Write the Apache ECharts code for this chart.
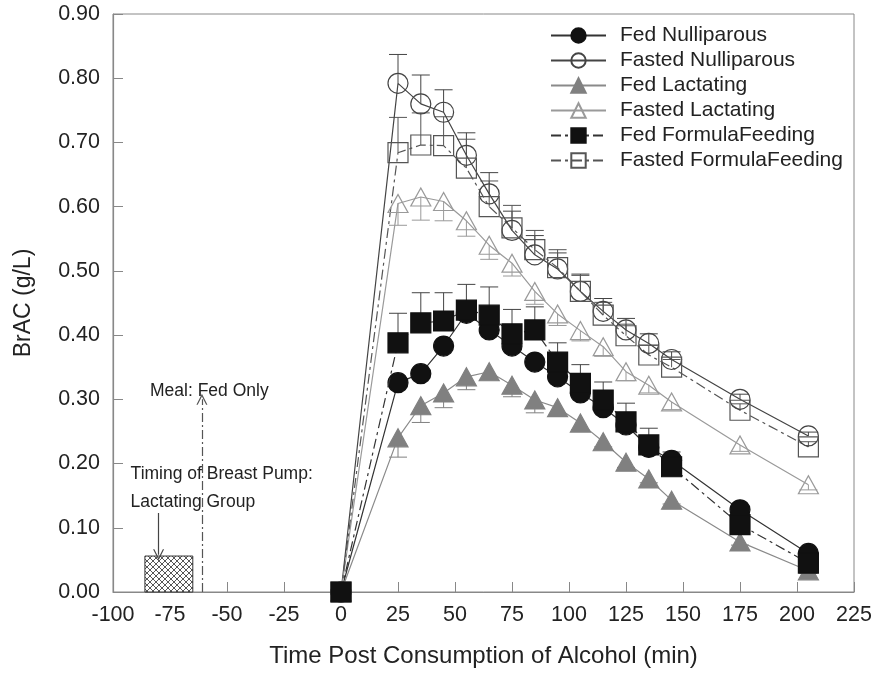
<!DOCTYPE html>
<html><head><meta charset="utf-8">
<script src="https://cdn.jsdelivr.net/npm/echarts@6/dist/echarts.min.js"></script>
<style>html,body{margin:0;padding:0;background:#fff}#c{width:875px;height:674px}</style>
</head><body><div id="c"></div>
<script>
// ---- data ----
const times = [0, 25, 35, 45, 55, 65, 75, 85, 95, 105, 115, 125, 135, 145, 175, 205];
const fedNulliparous      = [0, 0.326, 0.340, 0.383, 0.434, 0.408, 0.383, 0.358, 0.335, 0.310, 0.287, 0.260, 0.225, 0.205, 0.128, 0.060];
const fastedNulliparous   = [0, 0.792, 0.760, 0.747, 0.680, 0.620, 0.563, 0.525, 0.503, 0.468, 0.437, 0.408, 0.387, 0.362, 0.300, 0.243];
const fedLactating        = [0, 0.240, 0.290, 0.310, 0.335, 0.343, 0.322, 0.299, 0.287, 0.263, 0.234, 0.202, 0.176, 0.143, 0.078, 0.033];
const fastedLactating     = [0, 0.605, 0.615, 0.608, 0.578, 0.540, 0.512, 0.468, 0.433, 0.407, 0.382, 0.343, 0.322, 0.296, 0.229, 0.167];
const fedFormula          = [0, 0.388, 0.419, 0.422, 0.439, 0.431, 0.402, 0.408, 0.358, 0.325, 0.299, 0.265, 0.229, 0.195, 0.105, 0.045];
const fastedFormula       = [0, 0.684, 0.696, 0.695, 0.660, 0.600, 0.567, 0.533, 0.505, 0.468, 0.431, 0.399, 0.369, 0.350, 0.283, 0.226];
// error bar half-widths (SEM), direction: +1 up, -1 down
const fedNulliparousErr    = [0, 0, 0, 0, 0, 0, 0, 0, 0, 0, 0, 0, 0, 0, 0, 0];
const fastedNulliparousErr = [0, 0.045, 0.045, 0.035, 0.035, 0.033, 0.030, 0.030, 0.025, 0.027, 0.020, 0.018, 0.015, 0.012, 0.008, 0.006];
const fedLactatingErr      = [0, 0.030, 0.026, 0.023, 0.020, 0.012, 0.018, 0.020, 0.012, 0.010, 0.008, 0.008, 0.006, 0.006, 0.005, 0.004];
const fastedLactatingErr   = [0, 0.034, 0.036, 0.030, 0.024, 0.022, 0.020, 0.020, 0.018, 0.016, 0.015, 0.014, 0.012, 0.012, 0.010, 0.008];
const fedFormulaErr        = [0, 0.046, 0.047, 0.044, 0.040, 0.044, 0.038, 0.036, 0.030, 0.029, 0.028, 0.029, 0.026, 0.023, 0.010, 0.008];
const fastedFormulaErr     = [0, 0.055, 0.050, 0.045, 0.045, 0.040, 0.035, 0.030, 0.028, 0.025, 0.020, 0.018, 0.015, 0.012, 0.010, 0.008];
const seriesNames = ['Fed Nulliparous', 'Fasted Nulliparous', 'Fed Lactating', 'Fasted Lactating', 'Fed FormulaFeeding', 'Fasted FormulaFeeding'];
const xTicks = { min: -100, max: 225, step: 25 };
const yTicks = { min: 0, max: 0.9, step: 0.1 };
// annotations (data coordinates)
const pumpStart = -86, pumpEnd = -65, pumpTop = 0.056;
const mealTime = -61, mealArrowTop = 0.30;
const pumpArrowX = -80, pumpArrowFrom = 0.123, pumpArrowTo = 0.058;
const annotTexts = [
  { text: 'Meal: Fed Only', x: -84, y: 0.313 },
  { text: 'Timing of Breast Pump:', x: -92.5, y: 0.184 },
  { text: 'Lactating Group', x: -92.5, y: 0.140 }
];

// ---- styles ----
const FONT = 'Liberation Sans, Arial, sans-serif';
const styles = [
  { symbol: 'circle', size: 20, fill: '#111', border: '#111', line: '#333', type: 'solid', dir: 1, z: 3 },
  { symbol: 'circle', size: 20, fill: 'rgba(255,255,255,0)', border: '#444', line: '#444', type: 'solid', dir: 1, z: 3 },
  { symbol: 'triangle', size: [20, 18], fill: '#808080', border: '#808080', line: '#8a8a8a', type: 'solid', dir: -1, z: 3 },
  { symbol: 'triangle', size: [20, 18], fill: 'rgba(255,255,255,0)', border: '#9a9a9a', line: '#9a9a9a', type: 'solid', dir: -1, z: 3 },
  { symbol: 'rect', size: 20, fill: '#111', border: '#111', line: '#333', type: [10, 4, 3, 4], dir: 1, z: 4 },
  { symbol: 'rect', size: 20, fill: 'rgba(255,255,255,0)', border: '#555', line: '#555', type: [10, 4, 3, 4], dir: 1, z: 3 }
];
const values = [fedNulliparous, fastedNulliparous, fedLactating, fastedLactating, fedFormula, fastedFormula];
const errs = [fedNulliparousErr, fastedNulliparousErr, fedLactatingErr, fastedLactatingErr, fedFormulaErr, fastedFormulaErr];

// crosshatch pattern
const pc = document.createElement('canvas');
pc.width = 6; pc.height = 6;
const g = pc.getContext('2d');
g.fillStyle = '#fff'; g.fillRect(0, 0, 6, 6);
g.strokeStyle = '#444'; g.lineWidth = 0.9;
g.beginPath(); g.moveTo(0, 0); g.lineTo(6, 6); g.moveTo(6, 0); g.lineTo(0, 6); g.stroke();

const chevron = 'path://M0,12 L6,0 L12,12 L10.6,12 L6,2.8 L1.4,12 Z';

const series = [];
// error bars
values.forEach((vals, i) => {
  const st = styles[i];
  const data = [];
  times.forEach((t, k) => { if (errs[i][k] > 0) data.push([t, vals[k], vals[k] + st.dir * errs[i][k]]); });
  series.push({
    type: 'custom', name: seriesNames[i] + ' err', z: 1, silent: true,
    data: data,
    renderItem: function (params, api) {
      const p0 = api.coord([api.value(0), api.value(1)]);
      const p1 = api.coord([api.value(0), api.value(2)]);
      const hw = 9;
      const style = { stroke: st.border === '#111' ? '#444' : st.border, lineWidth: 1, fill: null };
      return { type: 'group', children: [
        { type: 'line', shape: { x1: p0[0], y1: p0[1], x2: p1[0], y2: p1[1] }, style: style },
        { type: 'line', shape: { x1: p1[0] - hw, y1: p1[1], x2: p1[0] + hw, y2: p1[1] }, style: style }
      ]};
    }
  });
});
// lines with markers
values.forEach((vals, i) => {
  const st = styles[i];
  series.push({
    type: 'line', name: seriesNames[i], z: st.z,
    data: times.map((t, k) => [t, vals[k]]),
    symbol: st.symbol, symbolSize: st.size, showAllSymbol: true,
    lineStyle: { color: st.line, width: 1.2, type: st.type },
    itemStyle: { color: st.fill, borderColor: st.border, borderWidth: 1.2 },
    emphasis: { disabled: true }, animation: false
  });
});
// annotations
series.push({
  type: 'scatter', name: 'annotations', data: [], z: 2, silent: true,
  markArea: {
    silent: true,
    itemStyle: { color: { image: pc, repeat: 'repeat' }, borderColor: '#333', borderWidth: 1 },
    data: [[{ xAxis: pumpStart, yAxis: 0 }, { xAxis: pumpEnd, yAxis: pumpTop }]]
  },
  markLine: {
    silent: true, animation: false,
    label: { show: false },
    data: [
      [{ coord: [mealTime, 0], symbol: 'none', lineStyle: { color: '#555', width: 1.2, type: [9, 3, 2, 3] } },
       { coord: [mealTime, mealArrowTop], symbol: chevron, symbolSize: [11, 11] }],
      [{ coord: [pumpArrowX, pumpArrowFrom], symbol: 'none', lineStyle: { color: '#444', width: 1.2, type: 'solid' } },
       { coord: [pumpArrowX, pumpArrowTo], symbol: chevron, symbolSize: [11, 11] }]
    ]
  },
  markPoint: {
    silent: true, symbol: 'rect', symbolSize: 1,
    itemStyle: { color: 'rgba(0,0,0,0)' },
    label: { show: true, position: 'right', distance: 0, formatter: p => p.name,
             fontSize: 17.5, color: '#222', fontFamily: FONT },
    data: annotTexts.map(a => ({ name: a.text, coord: [a.x, a.y] }))
  }
});

const chart = echarts.init(document.getElementById('c'), null, { renderer: 'canvas' });
chart.setOption({
  backgroundColor: '#fff',
  animation: false,
  grid: { left: 113, right: 21, top: 14, bottom: 82, show: true, borderColor: '#888', borderWidth: 1 },
  legend: {
    data: seriesNames, orient: 'vertical', left: 545, top: 20,
    itemWidth: 55, itemHeight: 18, itemGap: 4,
    textStyle: { fontSize: 21, color: '#222', fontFamily: FONT, padding: [0, 0, 0, 9], lineHeight: 21 },
    selectedMode: false
  },
  xAxis: {
    type: 'value', min: xTicks.min, max: xTicks.max, interval: xTicks.step,
    name: 'Time Post Consumption of Alcohol (min)', nameLocation: 'middle', nameGap: 52,
    nameTextStyle: { fontSize: 24, color: '#222', fontFamily: FONT },
    axisLine: { onZero: false, lineStyle: { color: '#888', width: 1.2 } },
    axisTick: { inside: true, length: 10, lineStyle: { color: '#888' } },
    axisLabel: { fontSize: 21.5, color: '#222', fontFamily: FONT, margin: 12, showMinLabel: true, showMaxLabel: true },
    splitLine: { show: false }
  },
  yAxis: {
    type: 'value', min: yTicks.min, max: yTicks.max, interval: yTicks.step,
    name: 'BrAC (g/L)', nameLocation: 'middle', nameGap: 78,
    nameTextStyle: { fontSize: 23, color: '#222', fontFamily: FONT },
    axisLine: { show: true, onZero: false, lineStyle: { color: '#888', width: 1.2 } },
    axisTick: { show: true, inside: true, length: 10, lineStyle: { color: '#888' } },
    axisLabel: { fontSize: 21.5, color: '#222', fontFamily: FONT, margin: 13, formatter: v => v.toFixed(2) },
    splitLine: { show: false }
  },
  series: series
});
</script></body></html>
